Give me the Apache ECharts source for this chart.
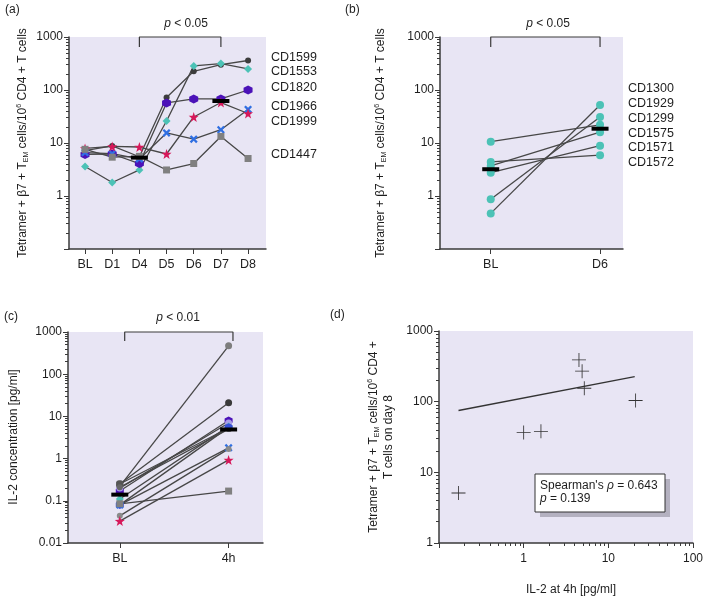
<!DOCTYPE html>
<html><head><meta charset="utf-8">
<script src="https://cdn.jsdelivr.net/npm/echarts@6/dist/echarts.min.js"></script>
<style>html,body{margin:0;padding:0;background:#fff}#c{width:706px;height:599px}</style>
</head><body><div id="c"></div><script>
// ---------------- DATA ----------------
// Panel (a)
const catsA = ['BL','D1','D4','D5','D6','D7','D8'];
const namesA = ['CD1599','CD1553','CD1820','CD1966','CD1999','CD1447'];
const cd1599 = [7.2, 8.8, 5.5, 72, 225, 300, 360];
const cd1553 = [3.6, 1.8, 3.1, 26, 285, 315, 250];
const cd1820 = [6.1, 6.2, 4.1, 57, 68, 68, 100];
const cd1966 = [6.6, 6.3, 5.0, 15.5, 11.8, 17.8, 43];
const cd1999 = [7.9, 8.6, 8.4, 6.2, 31, 58, 36];
const cd1447 = [7.6, 5.4, 5.6, 3.1, 4.1, 13.3, 5.1];
const medianAIdx = [2, 5];
const medianAVal = [5.3, 62];
// Panel (b)
const catsB = ['BL','D6'];
const namesB = ['CD1300','CD1929','CD1299','CD1575','CD1571','CD1572'];
const blB = [10.6, 0.47, 0.87, 3.7, 2.75, 4.4];
const d6B = [22, 52, 31, 16, 8.9, 5.9];
const medianB = [3.2, 18.6];
// Panel (c)
const catsC = ['BL','4h'];
const blC = [0.22, 0.25, 0.17, 0.2, 0.11, 0.25, 0.21, 0.08, 0.08, 0.044, 0.033, 0.085];
const h4C = [470, 21, 8.0, 7.0, 5.8, 5.3, 5.0, 5.5, 1.8, 1.7, 0.93, 0.17];
const medianC = [0.14, 4.9];
// Panel (d)
const il2At4h = [0.17, 1.0, 1.6, 4.5, 4.9, 5.2, 21];
const tetDay8 = [5.1, 36.5, 38, 390, 270, 155, 104];
const fitX = [0.17, 20.5];
const fitY = [75, 226];
// tick labels
const ticksAB = [1, 10, 100, 1000];
const ticksC = [0.01, 0.1, 1, 10, 100, 1000];
const ticksDY = [1, 10, 100, 1000];
const ticksDX = [1, 10, 100];

// ---------------- STYLE ----------------
const FONT = '"Liberation Sans", Arial, Helvetica, sans-serif';
const TXT = '#1e1e1e';
const AX = '#3a3a3a';
const BG = '#e8e5f4';
const LINE = '#474747';
const HEX = 'path://M0,-1L0.866,-0.5L0.866,0.5L0,1L-0.866,0.5L-0.866,-0.5Z';
const XS = 'path://M-1,-0.6L-0.6,-1L0,-0.4L0.6,-1L1,-0.6L0.4,0L1,0.6L0.6,1L0,0.4L-0.6,1L-1,0.6L-0.4,0Z';
const STAR = 'path://M0,-1L0.235,-0.324L0.951,-0.309L0.38,0.124L0.588,0.809L0,0.4L-0.588,0.809L-0.38,0.124L-0.951,-0.309L-0.235,-0.324Z';
const PLUS = 'path://M-1,-0.06L1,-0.06L1,0.06L-1,0.06ZM-0.06,-1L0.06,-1L0.06,1L-0.06,1Z';

function minorTicks(lo, hi) {
  const out = [];
  for (let d = lo; d < hi * 0.999; d *= 10) for (let k = 2; k <= 9; k++) out.push(+(d * k).toPrecision(3));
  return out;
}
const fmt = v => String(+(+v).toPrecision(3));

function logAxes(grid, min, max, labels, pos) {
  const isX = pos === 'bottom';
  const minor = minorTicks(min, max);
  return [
    {type: 'log', logBase: 10, gridIndex: grid, min, max, position: pos,
      axisLine: {show: true, onZero: false, lineStyle: {color: AX, width: 1.5}},
      axisTick: {show: true, length: 5, customValues: labels.concat([min]), lineStyle: {color: AX, width: 1}},
      axisLabel: {show: true, customValues: labels, formatter: fmt, color: TXT, fontSize: 12, fontFamily: FONT, margin: isX ? 10 : 6},
      splitLine: {show: false}, minorTick: {show: false}},
    {type: 'log', logBase: 10, gridIndex: grid, min, max, position: pos,
      axisLine: {show: false, onZero: false},
      axisTick: {show: true, length: 3, customValues: minor, lineStyle: {color: AX, width: 1}},
      axisLabel: {show: true, customValues: minor, formatter: () => '', color: 'rgba(0,0,0,0)'},
      splitLine: {show: false}, minorTick: {show: false}}
  ];
}
function catAxis(grid, min, max, cats) {
  const idx = cats.map((c, i) => i);
  return {type: 'value', gridIndex: grid, min, max, position: 'bottom',
    axisLine: {show: true, onZero: false, lineStyle: {color: AX, width: 1.5}},
    axisTick: {show: true, length: 5, customValues: idx, lineStyle: {color: AX, width: 1}},
    axisLabel: {show: true, customValues: idx, formatter: v => cats[Math.round(v)], color: TXT, fontSize: 12.5, fontFamily: FONT, margin: 9},
    splitLine: {show: false}};
}

const xAxis = [
  catAxis(0, -0.59, 6.66, catsA),
  catAxis(1, -0.464, 1.21, catsB),
  catAxis(2, -0.476, 1.316, catsC),
  ...logAxes(3, 0.1, 100, ticksDX, 'bottom')
];
const yAxis = [
  ...logAxes(0, 0.1, 1000, ticksAB, 'left'),
  ...logAxes(1, 0.1, 1000, ticksAB, 'left'),
  ...logAxes(2, 0.01, 1000, ticksC, 'left'),
  ...logAxes(3, 1, 1000, ticksDY, 'left')
];

const series = [];
function lineS(xi, yi, data, extra) {
  series.push(Object.assign({type: 'line', xAxisIndex: xi, yAxisIndex: yi, data, symbol: 'none', showSymbol: false,
    lineStyle: {color: LINE, width: 1.3}, z: 2, silent: true, clip: false}, extra || {}));
}
function dotS(xi, yi, data, symbol, size, color, z) {
  series.push({type: 'scatter', xAxisIndex: xi, yAxisIndex: yi, data, symbol, symbolSize: size,
    itemStyle: {color, opacity: 1}, z: z || 3, silent: true, clip: false});
}

// Panel (a)
const valsA = [cd1599, cd1553, cd1820, cd1966, cd1999, cd1447];
const styleA = [
  {c: '#3c3c3c', s: 'circle', z: 6},
  {c: '#4cc2b6', s: 'diamond', z: 8},
  {c: '#4b12b8', s: HEX, z: 9},
  {c: '#2f6fe2', s: XS, z: 8},
  {c: '#d6185a', s: STAR, z: 10},
  {c: '#808080', s: 'rect', z: 7}
];
valsA.forEach(v => lineS(0, 0, v.map((y, i) => [i, y])));
valsA.forEach((v, k) => dotS(0, 0, v.map((y, i) => [i, y]), styleA[k].s, styleA[k].z, styleA[k].c));
dotS(0, 0, medianAIdx.map((x, i) => [x, medianAVal[i]]), 'rect', [17, 4], '#000', 5);
lineS(0, 0, [[2, 646], [2, 1000], [5, 1000], [5, 646]], {lineStyle: {color: AX, width: 1.2}});

// Panel (b)
blB.forEach((b, i) => lineS(1, 2, [[0, b], [1, d6B[i]]]));
dotS(1, 2, blB.map(v => [0, v]), 'circle', 8, '#4cc2b6');
dotS(1, 2, d6B.map(v => [1, v]), 'circle', 8, '#4cc2b6');
dotS(1, 2, medianB.map((v, i) => [i, v]), 'rect', [17, 4], '#000', 5);
lineS(1, 2, [[0, 646], [0, 1000], [1, 1000], [1, 646]], {lineStyle: {color: AX, width: 1.2}});

// Panel (c)
const styleC = [
  {c: '#7d7d7d', s: 'circle', z: 7},
  {c: '#3a3a3a', s: 'circle', z: 7},
  {c: '#4b12b8', s: HEX, z: 8},
  {c: '#a89de6', s: 'circle', z: 7},
  {c: '#4cc2b6', s: 'diamond', z: 8},
  {c: '#555555', s: 'roundRect', z: 7},
  {c: '#666666', s: 'circle', z: 6},
  {c: '#3550d8', s: HEX, z: 8},
  {c: '#2f6fe2', s: XS, z: 8},
  {c: '#8a8a8a', s: 'circle', z: 6},
  {c: '#d6185a', s: STAR, z: 10},
  {c: '#808080', s: 'rect', z: 7}
];
blC.forEach((b, i) => lineS(2, 4, [[0, b], [1, h4C[i]]]));
blC.forEach((b, i) => dotS(2, 4, [[0, b], [1, h4C[i]]], styleC[i].s, styleC[i].z, styleC[i].c));
dotS(2, 4, medianC.map((v, i) => [i, v]), 'rect', [17, 4], '#000', 5);
lineS(2, 4, [[0.045, 612], [0.045, 1000], [1.04, 1000], [1.04, 612]], {lineStyle: {color: AX, width: 1.2}});

// Panel (d)
lineS(3, 6, fitX.map((x, i) => [x, fitY[i]]), {lineStyle: {color: '#333', width: 1.3}});
dotS(3, 6, il2At4h.map((x, i) => [x, tetDay8[i]]), PLUS, 14, '#333');

// ---------------- TEXT ----------------
const rich = {
  sub: {fontSize: 7, fontFamily: FONT, fill: TXT, verticalAlign: 'bottom', lineHeight: 9},
  sup: {fontSize: 7, fontFamily: FONT, fill: TXT, verticalAlign: 'top', lineHeight: 9},
  i: {fontSize: 12, fontFamily: FONT, fontStyle: 'italic', fill: TXT}
};
function txt(x, y, text, opt) {
  opt = opt || {};
  return {type: 'text', x, y, rotation: opt.rot || 0, silent: true, z: 50,
    style: {text, fill: TXT, fontSize: opt.size || 12, fontFamily: FONT, fontStyle: opt.italic ? 'italic' : 'normal',
      align: opt.align || 'left', verticalAlign: 'middle', rich, lineHeight: opt.lh || 14}};
}
const yTitle = 'Tetramer + β7 + T{sub|EM} cells/10{sup|6} CD4 + T cells';
const graphic = [
  txt(5, 10, '(a)'), txt(345, 10, '(b)'), txt(4, 317, '(c)'), txt(330, 315, '(d)'),
  txt(23, 143, yTitle, {rot: Math.PI / 2, align: 'center'}),
  txt(381, 143, yTitle, {rot: Math.PI / 2, align: 'center'}),
  txt(14, 437, 'IL-2 concentration [pg/ml]', {rot: Math.PI / 2, align: 'center'}),
  txt(374, 437, 'Tetramer + β7 + T{sub|EM} cells/10{sup|6} CD4 +', {rot: Math.PI / 2, align: 'center'}),
  txt(389, 437, 'T cells on day 8', {rot: Math.PI / 2, align: 'center'}),
  txt(571, 590, 'IL-2 at 4h [pg/ml]', {align: 'center'}),
  txt(186, 24, '{i|p} < 0.05', {align: 'center'}),
  txt(548, 24, '{i|p} < 0.05', {align: 'center'}),
  txt(178, 318, '{i|p} < 0.01', {align: 'center'}),
  {type: 'rect', shape: {x: 540, y: 479, width: 130, height: 38}, style: {fill: '#b4b1c0'}, z: 40, silent: true},
  {type: 'rect', shape: {x: 535, y: 474, width: 130, height: 38}, style: {fill: '#fff', stroke: '#333', lineWidth: 1}, z: 41, silent: true},
  txt(540, 486, "Spearman's {i|ρ} = 0.643"),
  txt(540, 499, '{i|p} = 0.139')
];
const labelYA = [57.5, 72, 88, 106.5, 121.5, 155];
namesA.forEach((n, i) => graphic.push(txt(271, labelYA[i], n, {size: 12.5})));
const labelYB = [89, 104, 118.5, 133.5, 148, 163];
namesB.forEach((n, i) => graphic.push(txt(628, labelYB[i], n, {size: 12.5})));

const chart = echarts.init(document.getElementById('c'), null, {renderer: 'canvas'});
chart.setOption({
  animation: false,
  backgroundColor: '#fff',
  grid: [
    {left: 69, top: 37, width: 197, height: 212, show: true, backgroundColor: BG, borderWidth: 0},
    {left: 440, top: 37, width: 183, height: 212, show: true, backgroundColor: BG, borderWidth: 0},
    {left: 68, top: 332, width: 195, height: 211, show: true, backgroundColor: BG, borderWidth: 0},
    {left: 439, top: 331, width: 255, height: 212, show: true, backgroundColor: BG, borderWidth: 0}
  ],
  xAxis, yAxis, series, graphic
});
</script></body></html>
